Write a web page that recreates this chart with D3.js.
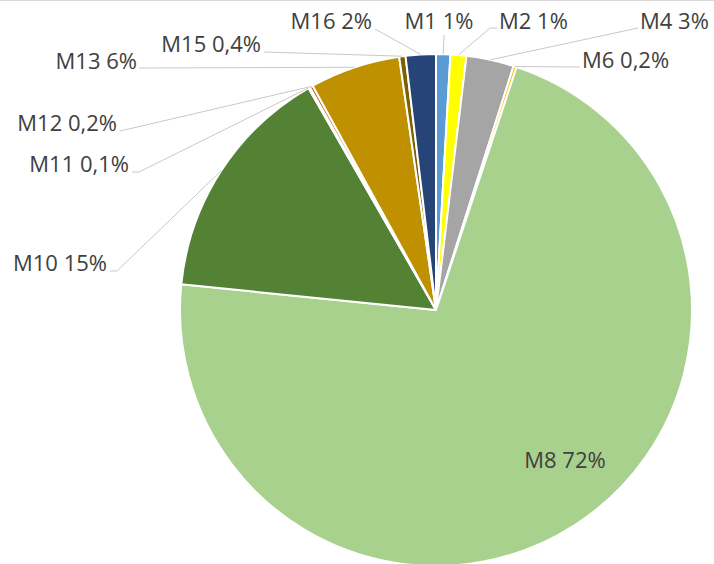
<!DOCTYPE html>
<html>
<head>
<meta charset="utf-8">
<script src="https://cdn.jsdelivr.net/npm/d3@7"></script>
<style>
  body { margin: 0; background: #fff; }
  svg { display: block; }
  text { font-family: "Open Sans", "Noto Sans", sans-serif; fill: #404040; }
</style>
</head>
<body>
<svg width="714" height="564"></svg>
<script>
// data (percent shares)
var names  = ["M1", "M2", "M4", "M6", "M8", "M10", "M11", "M12", "M13", "M15", "M16"];
var values = [0.9, 1.0, 3.0, 0.2, 71.5, 15.1, 0.1, 0.2, 5.7, 0.4, 1.9];
var colors = ["#5B9BD5", "#FFFF00", "#A5A5A5", "#FFC000", "#A9D18E", "#548235",
              "#843C0C", "#C55A11", "#BF9000", "#7F6000", "#264478"];

// label placement (Excel style callouts): text x / baseline y, anchor, leader start
var labelPos = {
  "M1":  {x: 439, y: 29, anchor: "middle", lx: 444, ly: 35},
  "M2":  {x: 499, y: 29, anchor: "start",  lx: 497, ly: 28, elbow: 490},
  "M4":  {x: 640, y: 29, anchor: "start",  lx: 638, ly: 28},
  "M6":  {x: 582, y: 68, anchor: "start",  lx: 580, ly: 67},
  "M8":  {x: 565, y: 468, anchor: "middle", inside: true},
  "M10": {x: 107, y: 271, anchor: "end",   lx: 110, ly: 271, elbow: 117},
  "M11": {x: 129, y: 172, anchor: "end",   lx: 132, ly: 172, elbow: 139},
  "M12": {x: 117, y: 131, anchor: "end",   lx: 120, ly: 131},
  "M13": {x: 137, y: 69, anchor: "end",    lx: 139, ly: 68},
  "M15": {x: 261, y: 52, anchor: "end",    lx: 264, ly: 52},
  "M16": {x: 372, y: 29, anchor: "end",    lx: 375, ly: 29}
};

var svg = d3.select("svg");
var cx = 436, cy = 310, radius = 256;

// chart frame top edge
svg.append("line")
  .attr("x1", 0).attr("x2", 714).attr("y1", 0.5).attr("y2", 0.5)
  .attr("stroke", "#d9d9d9");

var data = names.map(function(n, i) { return {name: n, value: values[i], color: colors[i]}; });

var pie = d3.pie().sort(null).value(function(d) { return d.value; });
var arc = d3.arc().innerRadius(0).outerRadius(radius);
var arcs = pie(data);

var g = svg.append("g").attr("transform", "translate(" + cx + "," + cy + ")");

g.selectAll("path")
  .data(arcs)
  .enter().append("path")
    .attr("d", arc)
    .attr("fill", function(d) { return d.data.color; })
    .attr("stroke", "#fff")
    .attr("stroke-width", 2)
    .attr("stroke-linejoin", "round");

function fmt(v) {
  if (v < 0.5) return d3.format(".1f")(v).replace(".", ",") + "%";
  return Math.round(v) + "%";
}

// leader lines
arcs.forEach(function(d) {
  var p = labelPos[d.data.name];
  if (p.inside) return;
  var a = (d.startAngle + d.endAngle) / 2;
  var ex = cx + radius * Math.sin(a), ey = cy - radius * Math.cos(a);
  var pts = [[p.lx, p.ly]];
  if (p.elbow) pts.push([p.elbow, p.ly]);
  pts.push([ex, ey]);
  svg.append("path")
    .attr("d", d3.line()(pts))
    .attr("fill", "none")
    .attr("stroke", "#c8c8c8")
    .attr("stroke-width", 1);
});

// labels
svg.selectAll("text.lbl")
  .data(arcs)
  .enter().append("text")
    .attr("class", "lbl")
    .attr("x", function(d) { return labelPos[d.data.name].x; })
    .attr("y", function(d) { return labelPos[d.data.name].y; })
    .attr("text-anchor", function(d) { return labelPos[d.data.name].anchor; })
    .style("font-size", "22px")
    .text(function(d) { return d.data.name + " " + fmt(d.data.value); });
</script>
</body>
</html>
